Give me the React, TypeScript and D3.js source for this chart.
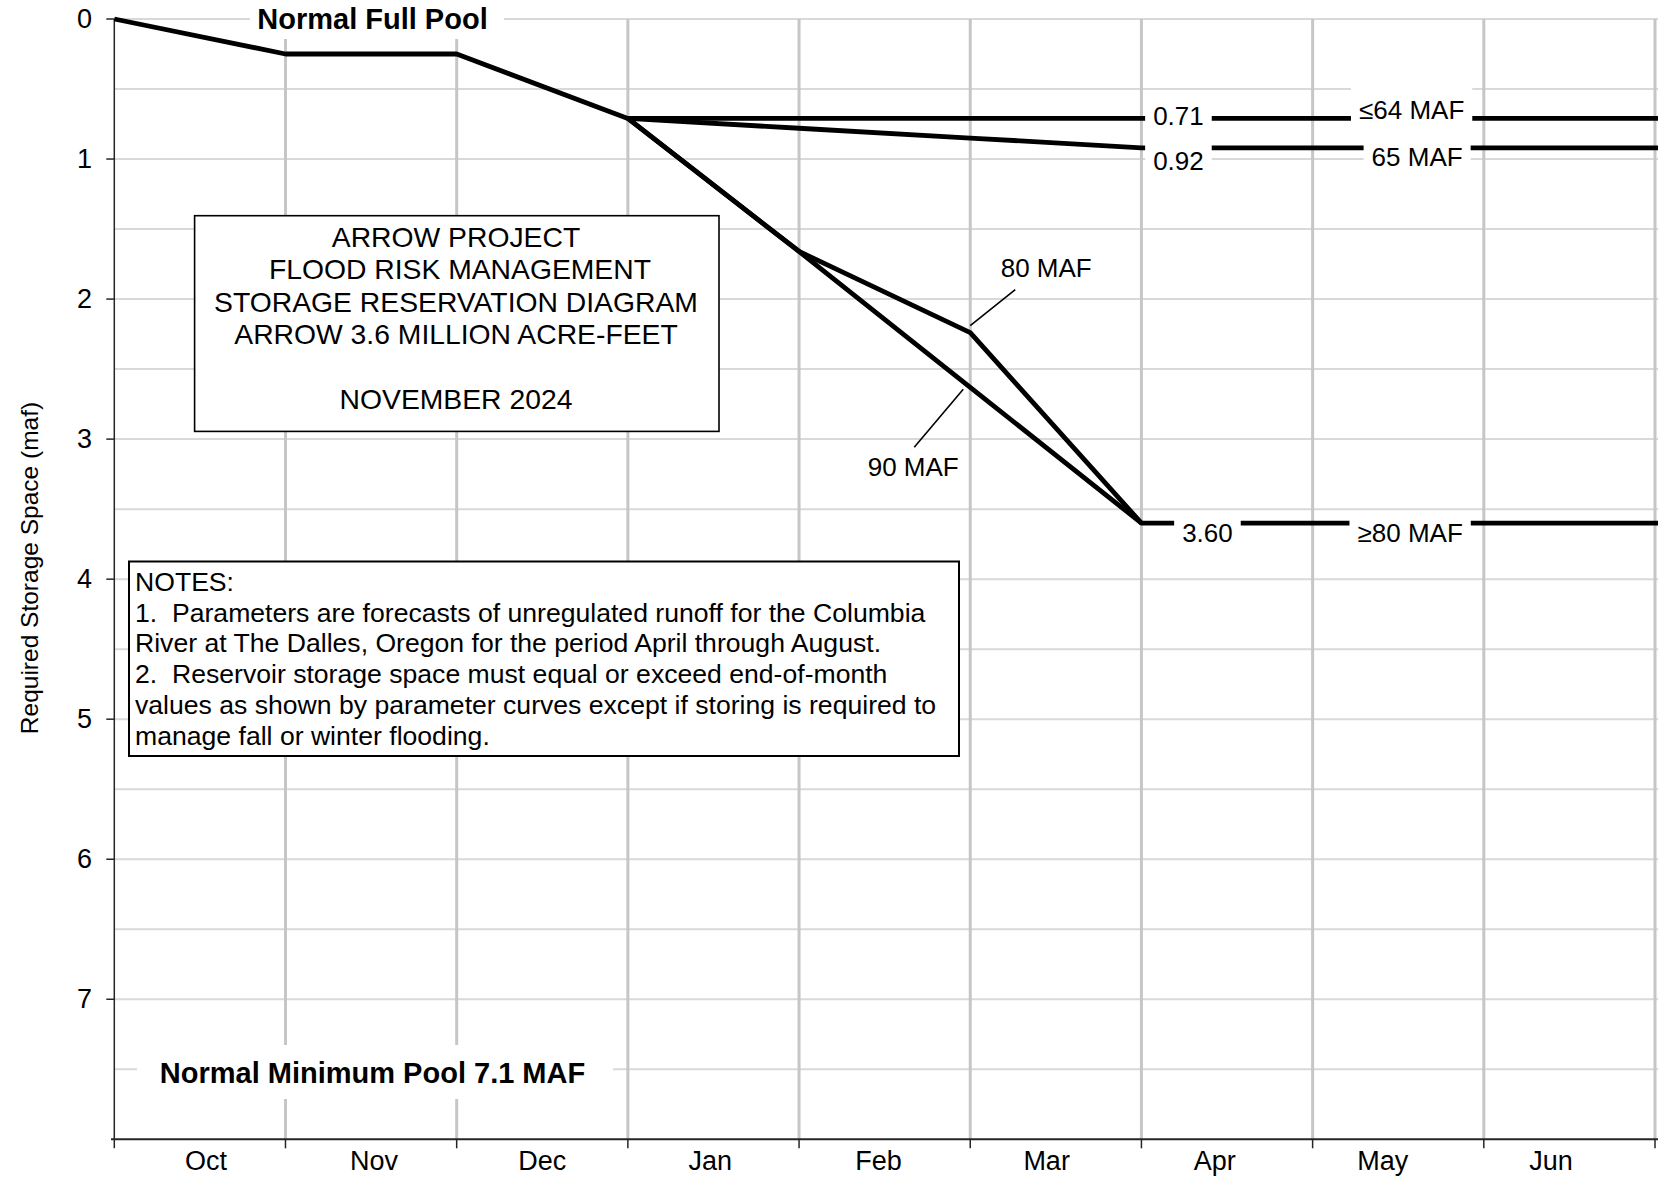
import React, { useEffect, useRef } from "react";
import * as d3 from "d3";

// months on the category axis, Oct 1 = index 0, each curve point is an end of month
const months = ["Oct", "Nov", "Dec", "Jan", "Feb", "Mar", "Apr", "May", "Jun"];

// Oct 1 .. end of Dec (shared by all curves)
const commonCurve = [0, 0.25, 0.25, 0.71];
// end of Dec .. end of Jul (the chart is cut off past Jun)
const le64Curve = [0.71, 0.71, 0.71, 0.71, 0.71, 0.71, 0.71, 0.71];
const maf65Curve = [0.71, 0.78, 0.85, 0.92, 0.92, 0.92, 0.92, 0.92];
const maf80Curve = [0.71, 1.66, 2.24, 3.6, 3.6, 3.6, 3.6, 3.6];
const maf90Curve = [0.71, 1.66, 2.63, 3.6];

const yTicks = [0, 1, 2, 3, 4, 5, 6, 7];

const titleLines = [
  "ARROW PROJECT",
  " FLOOD RISK MANAGEMENT",
  "STORAGE RESERVATION DIAGRAM",
  "ARROW 3.6 MILLION ACRE-FEET",
  "",
  "NOVEMBER 2024",
];

const noteLines = [
  "NOTES:",
  "1.  Parameters are forecasts of unregulated runoff for the Columbia",
  "River at The Dalles, Oregon for the period April through August.",
  "2.  Reservoir storage space must equal or exceed end-of-month",
  "values as shown by parameter curves except if storing is required to",
  "manage fall or winter flooding.",
];

const FONT = "'Liberation Sans', Arial, Helvetica, sans-serif";

export default function App() {
  const svgRef = useRef<SVGSVGElement>(null);

  useEffect(() => {
    const width = 1658;
    const height = 1182;
    const svg = d3.select(svgRef.current);
    svg.selectAll("*").remove();
    svg.attr("width", width).attr("height", height).style("font-family", FONT);

    const x = d3.scaleLinear().domain([0, 9]).range([114.3, 1655]);
    const y = d3.scaleLinear().domain([0, 8]).range([19, 1139.3]);
    // labels sit a little off the month centres in the original
    const xLabel = d3.scalePoint().domain(months).range([206, 1551]);

    // grid
    const grid = svg.append("g");
    grid
      .selectAll("line.h")
      .data(d3.range(0, 8, 0.5))
      .join("line")
      .attr("x1", x(0))
      .attr("x2", width)
      .attr("y1", (d) => y(d))
      .attr("y2", (d) => y(d))
      .attr("stroke", "#d9d9d9")
      .attr("stroke-width", 2);
    grid
      .selectAll("line.v")
      .data(d3.range(1, 10))
      .join("line")
      .attr("x1", (d) => x(d))
      .attr("x2", (d) => x(d))
      .attr("y1", y(0))
      .attr("y2", y(8))
      .attr("stroke", "#c6c6c6")
      .attr("stroke-width", 3);

    // axes
    const axisColor = "#262626";
    svg
      .append("line")
      .attr("x1", 111)
      .attr("x2", width)
      .attr("y1", y(8))
      .attr("y2", y(8))
      .attr("stroke", axisColor)
      .attr("stroke-width", 2);
    svg
      .append("line")
      .attr("x1", x(0))
      .attr("x2", x(0))
      .attr("y1", y(0))
      .attr("y2", y(8) + 9)
      .attr("stroke", axisColor)
      .attr("stroke-width", 1.5);
    svg
      .append("g")
      .selectAll("line")
      .data(d3.range(1, 10))
      .join("line")
      .attr("x1", (d) => x(d))
      .attr("x2", (d) => x(d))
      .attr("y1", y(8))
      .attr("y2", y(8) + 9)
      .attr("stroke", axisColor)
      .attr("stroke-width", 1.5);
    svg
      .append("g")
      .selectAll("line")
      .data(yTicks)
      .join("line")
      .attr("x1", x(0) - 8)
      .attr("x2", x(0))
      .attr("y1", (d) => y(d))
      .attr("y2", (d) => y(d))
      .attr("stroke", axisColor)
      .attr("stroke-width", 1.5);

    svg
      .append("g")
      .selectAll("text")
      .data(yTicks)
      .join("text")
      .attr("x", 92)
      .attr("y", (d) => y(d))
      .attr("text-anchor", "end")
      .attr("dominant-baseline", "central")
      .attr("font-size", 27)
      .text((d) => d);

    svg
      .append("g")
      .selectAll("text")
      .data(months)
      .join("text")
      .attr("x", (d) => xLabel(d)!)
      .attr("y", 1161)
      .attr("text-anchor", "middle")
      .attr("dominant-baseline", "central")
      .attr("font-size", 27)
      .text((d) => d);

    svg
      .append("text")
      .attr("transform", `translate(29,568) rotate(-90)`)
      .attr("text-anchor", "middle")
      .attr("dominant-baseline", "central")
      .attr("font-size", 24.5)
      .text("Required Storage Space (maf)");

    // pool labels with white backgrounds over the grid
    const pool = [
      { text: "Normal Full Pool", x0: 250, x1: 504, y0: 0, y1: 39, cy: y(0), size: 29 },
      { text: "Normal Minimum Pool 7.1 MAF", x0: 137, x1: 613, y0: 1045, y1: 1099, cy: 1073, size: 29 },
    ];
    pool.forEach((p) => {
      svg
        .append("rect")
        .attr("x", p.x0)
        .attr("y", p.y0)
        .attr("width", p.x1 - p.x0)
        .attr("height", p.y1 - p.y0)
        .attr("fill", "#fff");
      svg
        .append("text")
        .attr("x", 372.5)
        .attr("y", p.cy)
        .attr("text-anchor", "middle")
        .attr("dominant-baseline", "central")
        .attr("font-size", p.size)
        .attr("font-weight", "bold")
        .text(p.text);
    });

    // curves
    const line = d3
      .line<number>()
      .x((_, i) => x(i))
      .y((d) => y(d));
    const fromDec = d3
      .line<number>()
      .x((_, i) => x(i + 3))
      .y((d) => y(d));
    const curves = svg
      .append("g")
      .attr("fill", "none")
      .attr("stroke", "#000")
      .attr("stroke-width", 4.8)
      .attr("stroke-linejoin", "round");
    curves.append("path").attr("d", line(commonCurve));
    [le64Curve, maf65Curve, maf80Curve, maf90Curve].forEach((c) =>
      curves.append("path").attr("d", fromDec(c))
    );

    // data labels on the flat parts
    const dataLabels = [
      { text: "0.71", m: 6, v: le64Curve[3], dx: 37, dy: -2, top: 16, bottom: 17 },
      { text: "\u226464 MAF", m: 7, v: le64Curve[4], dx: 99, dy: -8, top: 23, bottom: 23 },
      { text: "0.92", m: 6, v: maf65Curve[3], dx: 37, dy: 13.5, top: 18, bottom: 18 },
      { text: "65 MAF", m: 7, v: maf65Curve[4], dx: 104.5, dy: 9, top: 18, bottom: 18 },
      { text: "3.60", m: 6, v: maf80Curve[3], dx: 66, dy: 10, top: 18, bottom: 18 },
      { text: "\u226580 MAF", m: 7, v: maf80Curve[4], dx: 97.5, dy: 9.5, top: 18, bottom: 18 },
    ];
    dataLabels.forEach((l) => {
      const cx = x(l.m) + l.dx;
      const cy = y(l.v) + l.dy;
      const g = svg.append("g");
      const rect = g.append("rect").attr("fill", "#fff");
      const t = g
        .append("text")
        .attr("x", cx)
        .attr("y", cy)
        .attr("text-anchor", "middle")
        .attr("dominant-baseline", "central")
        .attr("font-size", 26)
        .text(l.text);
      const w = (t.node() as SVGTextElement).getComputedTextLength();
      rect
        .attr("x", cx - w / 2 - 8)
        .attr("width", w + 16)
        .attr("y", cy - l.top)
        .attr("height", l.top + l.bottom);
    });

    // leader labels for 80 and 90 MAF
    const leaders = [
      { text: "80 MAF", m: 5, v: maf80Curve[2], x1: 0, y1: -7, x2: 45, y2: -43, lx: 76, ly: -65 },
      { text: "90 MAF", m: 5, v: maf90Curve[2], x1: -7, y1: 2, x2: -56, y2: 60, lx: -57, ly: 80 },
    ];
    leaders.forEach((l) => {
      const px = x(l.m);
      const py = y(l.v);
      svg
        .append("line")
        .attr("x1", px + l.x1)
        .attr("y1", py + l.y1)
        .attr("x2", px + l.x2)
        .attr("y2", py + l.y2)
        .attr("stroke", "#000")
        .attr("stroke-width", 1.6);
      svg
        .append("text")
        .attr("x", px + l.lx)
        .attr("y", py + l.ly)
        .attr("text-anchor", "middle")
        .attr("dominant-baseline", "central")
        .attr("font-size", 26)
        .text(l.text);
    });

    // title box
    svg
      .append("rect")
      .attr("x", 194.6)
      .attr("y", 215.7)
      .attr("width", 524.4)
      .attr("height", 215.7)
      .attr("fill", "#fff")
      .attr("stroke", "#000")
      .attr("stroke-width", 1.6);
    svg
      .append("g")
      .selectAll("text")
      .data(titleLines)
      .join("text")
      .attr("x", 456)
      .attr("y", (_, i) => 237 + i * 32.4)
      .attr("text-anchor", "middle")
      .attr("dominant-baseline", "central")
      .attr("font-size", 28.3)
      .style("white-space", "pre")
      .text((d) => d);

    // notes box
    svg
      .append("rect")
      .attr("x", 129)
      .attr("y", 561.5)
      .attr("width", 830)
      .attr("height", 194.5)
      .attr("fill", "#fff")
      .attr("stroke", "#000")
      .attr("stroke-width", 2);
    svg
      .append("g")
      .selectAll("text")
      .data(noteLines)
      .join("text")
      .attr("x", 135)
      .attr("y", (_, i) => 582 + i * 30.7)
      .attr("dominant-baseline", "central")
      .attr("font-size", 26.6)
      .style("white-space", "pre")
      .text((d) => d);
  }, []);

  return (
    <div style={{ position: "absolute", left: 0, top: 0 }}>
      <svg ref={svgRef} style={{ display: "block" }}></svg>
    </div>
  );
}
